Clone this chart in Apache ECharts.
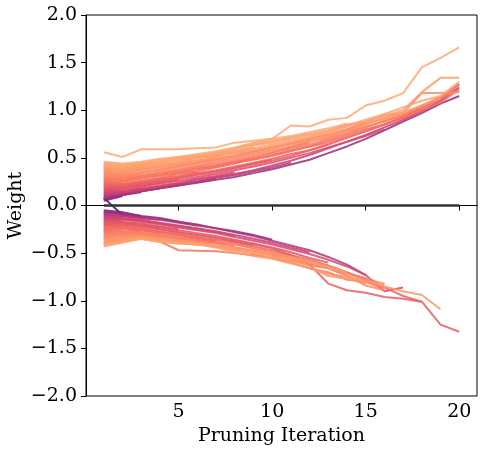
<!DOCTYPE html>
<html>
<head>
<meta charset="utf-8">
<script src="https://cdn.jsdelivr.net/npm/echarts@6/dist/echarts.min.js"></script>
<style>
html,body{margin:0;padding:0;background:#fff;}
#chart{width:483px;height:451px;}
</style>
</head>
<body>
<div id="chart"></div>
<script>
// Pruning iterations (x values)
const iterations = [1,2,3,4,5,6,7,8,9,10,11,12,13,14,15,16,17,18,19,20];
const xTickLabels = [5,10,15,20];
const yTickLabels = [-2.0,-1.5,-1.0,-0.5,0.0,0.5,1.0,1.5,2.0];

// Positive weight trajectories (value at iteration 1, 2, ... until pruned)
const positiveWeights = [
  [0.05,0.10],
  [0.06,0.11,0.14],
  [0.07,0.11,0.15,0.18,0.21,0.24,0.27,0.30,0.34,0.38,0.43,0.48,0.55,0.62,0.70,0.79,0.88,0.97,1.07,1.15],
  [0.08,0.12,0.15,0.18],
  [0.09,0.12,0.15,0.18,0.21,0.25,0.28],
  [0.10,0.13,0.16,0.19,0.22,0.25,0.29,0.32,0.36,0.40,0.45],
  [0.11,0.13],
  [0.12,0.14,0.17,0.20,0.23,0.27,0.30,0.33,0.37,0.42,0.47,0.53,0.60,0.67,0.74,0.82,0.90,0.99,1.10,1.24],
  [0.13,0.15,0.18],
  [0.14,0.15,0.18,0.21,0.24,0.28,0.31,0.35],
  [0.15,0.16],
  [0.16,0.17,0.20,0.23,0.26,0.30,0.33,0.37,0.41,0.45,0.50,0.55,0.61,0.67,0.73,0.80],
  [0.17,0.18,0.21,0.24,0.27],
  [0.18,0.19,0.22,0.25],
  [0.19,0.20,0.23,0.26,0.29,0.33,0.36,0.40,0.44,0.48],
  [0.20,0.19,0.22,0.25,0.28,0.32,0.35,0.39,0.43,0.47,0.52,0.58,0.64,0.71,0.78,0.85,0.93,1.02,1.12,1.27],
  [0.21,0.21,0.24],
  [0.22,0.21,0.24,0.27,0.30,0.34,0.37,0.41,0.45,0.49,0.54,0.58,0.64],
  [0.23,0.22,0.25,0.28,0.31,0.35],
  [0.24,0.23,0.26,0.29,0.33,0.36,0.40,0.44,0.49,0.53,0.58,0.62,0.68,0.74,0.80,0.85,0.92,1.00,1.08,1.22],
  [0.25,0.24],
  [0.26,0.25,0.28,0.31,0.34,0.38,0.41,0.45,0.48,0.52,0.57,0.62,0.66,0.72,0.78,0.85,0.93,1.02],
  [0.27,0.26,0.29,0.32,0.35,0.39,0.42,0.46,0.50],
  [0.28,0.27,0.30,0.33,0.36,0.39,0.42,0.46,0.50,0.55,0.60,0.64,0.70,0.76,0.82,0.89,0.95,1.03,1.13,1.28],
  [0.29,0.28,0.31,0.34,0.37],
  [0.30,0.29,0.31,0.34,0.37,0.41,0.44,0.48,0.52,0.56,0.61,0.66],
  [0.31,0.30,0.32,0.35,0.38,0.42,0.46,0.50,0.54,0.58,0.62,0.67,0.72,0.78,0.83,0.88,0.95,1.05,1.14,1.20],
  [0.32,0.31,0.33],
  [0.33,0.32,0.34,0.37,0.41,0.45,0.48,0.52,0.56,0.60,0.65,0.69,0.74,0.80,0.87],
  [0.34,0.32,0.35,0.38,0.42,0.45,0.49],
  [0.35,0.33,0.35,0.37,0.40,0.44,0.48,0.52,0.57,0.61,0.65,0.70,0.75,0.80,0.86,0.91,0.97,1.18,1.18,1.19],
  [0.36,0.34,0.37,0.40,0.43,0.46,0.49,0.53,0.57,0.61,0.64,0.68],
  [0.37,0.35,0.38,0.41,0.44],
  [0.38,0.36,0.38,0.41,0.44,0.47,0.51,0.55,0.58,0.62,0.66,0.70,0.74,0.79,0.85,0.92,0.98,1.05,1.12],
  [0.39,0.37,0.40,0.43,0.46,0.50,0.53,0.57,0.61],
  [0.40,0.38,0.40,0.42,0.45,0.48,0.52,0.56,0.60,0.64,0.68,0.72,0.77,0.83,0.88,0.94,1.00,1.19,1.34,1.34],
  [0.40,0.38],
  [0.41,0.39,0.42,0.45,0.48,0.51,0.55,0.60,0.64,0.67,0.72,0.75,0.79,0.85,0.88,0.95,0.97],
  [0.42,0.40,0.42,0.45,0.48,0.51,0.54,0.58],
  [0.43,0.41,0.43,0.46,0.49,0.52,0.55,0.59,0.63,0.66,0.70,0.74,0.78,0.84,0.90,0.96,1.03,1.10,1.15,1.30],
  [0.43,0.42,0.44,0.46],
  [0.44,0.42,0.44,0.47,0.50,0.53,0.56,0.60,0.65,0.68,0.71],
  [0.45,0.43,0.45,0.48,0.51,0.54,0.57,0.61,0.66,0.70,0.73,0.77,0.81,0.86],
  [0.46,0.44,0.46,0.49,0.51,0.53],
  [0.56,0.51,0.59,0.59,0.59,0.60,0.61,0.66,0.68,0.70,0.84,0.83,0.90,0.92,1.05,1.10,1.18,1.45,1.55,1.66]
];

// Negative weight trajectories
const negativeWeights = [
  [-0.05,-0.07,-0.11],
  [-0.06,-0.08,-0.11,-0.13,-0.17,-0.20,-0.24,-0.27,-0.31,-0.36],
  [-0.07,-0.09],
  [-0.08,-0.09,-0.12,-0.14,-0.17,-0.21],
  [-0.09,-0.11,-0.13,-0.15,-0.18,-0.21,-0.24,-0.28,-0.32,-0.37,-0.42,-0.47,-0.54,-0.62,-0.73],
  [-0.10,-0.11,-0.13,-0.15],
  [-0.11,-0.12],
  [-0.12,-0.13,-0.15,-0.18,-0.21,-0.24,-0.27,-0.31,-0.35,-0.39,-0.44,-0.49],
  [-0.13,-0.14,-0.16],
  [-0.14,-0.14,-0.16,-0.19,-0.22,-0.25,-0.28,-0.32],
  [-0.15,-0.15,-0.17,-0.20,-0.23,-0.26,-0.29,-0.33,-0.37,-0.41,-0.46,-0.51,-0.57,-0.64,-0.73,-0.90,-0.86],
  [-0.16,-0.16],
  [-0.17,-0.17,-0.19,-0.22,-0.25],
  [-0.18,-0.18,-0.20,-0.23,-0.26,-0.29,-0.32,-0.36,-0.40,-0.44,-0.49,-0.55,-0.60],
  [-0.19,-0.19,-0.21,-0.24],
  [-0.20,-0.19,-0.22,-0.25,-0.28,-0.31,-0.34,-0.38,-0.42],
  [-0.20,-0.20,-0.22,-0.25,-0.28,-0.31,-0.34,-0.37,-0.41,-0.45,-0.52,-0.62,-0.82,-0.89,-0.915,-0.96,-0.98,-1.01,-1.25,-1.325],
  [-0.21,-0.21],
  [-0.22,-0.21,-0.24,-0.27,-0.30,-0.33,-0.36,-0.39,-0.43,-0.47,-0.52,-0.57,-0.63,-0.70,-0.78,-0.86,-0.95,-1.01],
  [-0.23,-0.22,-0.25,-0.28,-0.31,-0.34,-0.37],
  [-0.24,-0.23,-0.26,-0.29],
  [-0.25,-0.24,-0.26,-0.29,-0.32,-0.35,-0.38,-0.41,-0.45,-0.49,-0.53],
  [-0.26,-0.25,-0.27],
  [-0.27,-0.31,-0.35,-0.38,-0.47,-0.475,-0.48,-0.50,-0.52,-0.54,-0.57,-0.61,-0.66,-0.72],
  [-0.27,-0.26],
  [-0.28,-0.27,-0.28,-0.31,-0.34,-0.36,-0.39,-0.43],
  [-0.29,-0.28,-0.29,-0.31,-0.34,-0.37,-0.40,-0.44,-0.48,-0.52,-0.56,-0.60,-0.65,-0.71,-0.76,-0.83],
  [-0.30,-0.28,-0.29,-0.32,-0.35,-0.38,-0.41,-0.45,-0.50,-0.55,-0.60,-0.66,-0.70,-0.78,-0.80,-0.88],
  [-0.31,-0.29,-0.30,-0.32,-0.35,-0.38,-0.41,-0.44,-0.48,-0.51,-0.55,-0.58,-0.64],
  [-0.32,-0.30,-0.30,-0.33,-0.36],
  [-0.33,-0.31,-0.30,-0.33,-0.36,-0.38,-0.41,-0.45,-0.49,-0.53,-0.58,-0.63,-0.66,-0.74,-0.84,-0.89],
  [-0.34,-0.32,-0.31,-0.34,-0.36,-0.39,-0.42,-0.45,-0.49,-0.52,-0.55,-0.59],
  [-0.35,-0.33,-0.32,-0.35,-0.37,-0.39],
  [-0.36,-0.34,-0.32,-0.34,-0.37,-0.40,-0.43,-0.47,-0.50,-0.54,-0.60,-0.66,-0.72,-0.75,-0.82],
  [-0.37,-0.35,-0.33,-0.36,-0.38,-0.40,-0.42,-0.45,-0.48,-0.52],
  [-0.38,-0.36,-0.33,-0.35,-0.37,-0.39,-0.41,-0.44,-0.47,-0.50,-0.54,-0.58,-0.64,-0.72,-0.80,-0.85,-0.90,-0.94,-1.09],
  [-0.39,-0.37,-0.34,-0.37,-0.39,-0.41,-0.42,-0.46,-0.50],
  [-0.40,-0.36,-0.33,-0.36,-0.38,-0.41,-0.44,-0.49,-0.53,-0.56,-0.61,-0.65,-0.74,-0.77,-0.79,-0.82],
  [-0.40,-0.37],
  [-0.41,-0.38,-0.34,-0.37,-0.39,-0.41,-0.42,-0.46,-0.49,-0.53,-0.56,-0.60,-0.65,-0.70],
  [-0.42,-0.38,-0.35,-0.38,-0.40,-0.41,-0.42],
  [-0.43,-0.39,-0.35,-0.38,-0.40,-0.41,-0.42,-0.47,-0.50,-0.54,-0.57]
];

// Weight that flips sign right after the first iteration
const signFlipWeight = [0.08,-0.10,-0.12];
// Pruned weights held at zero
const zeroWeights = [0,0,0,0,0,0,0,0,0,0,0,0,0,0,0,0,0,0,0,0];

// ---- styling helpers ----
const MAGMA = [
  [0,0,4],[20,14,54],[59,15,112],[100,26,128],[140,41,129],[183,55,121],
  [222,73,104],[247,112,92],[254,159,109],[254,207,146],[252,253,191]
];
function magma(t){
  t = Math.max(0, Math.min(1, t));
  const p = t * 10, i = Math.min(9, Math.floor(p)), f = p - i;
  const a = MAGMA[i], b = MAGMA[i+1];
  const c = a.map((v,k)=>Math.round(v + (b[k]-v)*f));
  return 'rgb(' + c.join(',') + ')';
}
function colorFor(start){
  const m = Math.abs(start);
  const r = Math.max(0, Math.min(1, (m - 0.04) / 0.41));
  return magma(0.1 + 0.72 * Math.pow(r, 0.3));
}
function toPoints(vals){
  return vals.map((v,i)=>[iterations[i], v]);
}
function lineSeries(vals, color, width, opacity){
  return {
    type:'line', data: toPoints(vals), showSymbol:false, symbol:'none',
    silent:true, animation:false,
    lineStyle:{color: color, width: width, opacity: opacity},
    emphasis:{disabled:true}
  };
}

const series = [];
series.push(lineSeries(signFlipWeight, magma(0.12), 2, 0.8));
// draw dark (small magnitude) lines first so lighter ones sit on top
const all = positiveWeights.concat(negativeWeights);
all.slice().sort((a,b)=>Math.abs(a[0]) - Math.abs(b[0])).forEach(vals=>{
  series.push(lineSeries(vals, colorFor(vals[0]), 2, 0.85));
});
series.push(lineSeries(zeroWeights, '#333333', 2.5, 1));

const FONT = 'DejaVu Serif';
const chart = echarts.init(document.getElementById('chart'), null, {renderer:'canvas'});
chart.setOption({
  animation:false,
  backgroundColor:'#ffffff',
  grid:{left:86, right:6, top:15, bottom:55, outerBoundsMode:'none', containLabel:false,
    show:true, borderColor:'#000', borderWidth:1, backgroundColor:'transparent'},
  xAxis:{
    type:'value', min:0.05, max:20.95,
    name:'Pruning Iteration', nameLocation:'middle', nameGap:24,
    nameTextStyle:{fontFamily:FONT, fontSize:19, color:'#000'},
    axisLine:{show:true, lineStyle:{color:'#000', width:1}},
    axisTick:{show:true, length:5, lineStyle:{color:'#000'}, customValues:xTickLabels},
    axisLabel:{fontFamily:FONT, fontSize:19, color:'#000', margin:7, customValues:xTickLabels,
      formatter:v=>String(v)},
    splitLine:{show:false}
  },
  yAxis:{
    type:'value', min:-2, max:2, interval:0.5,
    name:'Weight', nameLocation:'middle', nameGap:60, nameMoveOverlap:false,
    nameTextStyle:{fontFamily:FONT, fontSize:19, color:'#000'},
    axisLine:{show:true, lineStyle:{color:'#000', width:1}},
    axisTick:{show:true, length:5, lineStyle:{color:'#000'}, customValues:yTickLabels},
    axisLabel:{fontFamily:FONT, fontSize:19, color:'#000', margin:9, customValues:yTickLabels,
      formatter:v=>(v<0?'\u2212':'') + Math.abs(v).toFixed(1)},
    splitLine:{show:false}
  },
  series: series
});
</script>
</body>
</html>
